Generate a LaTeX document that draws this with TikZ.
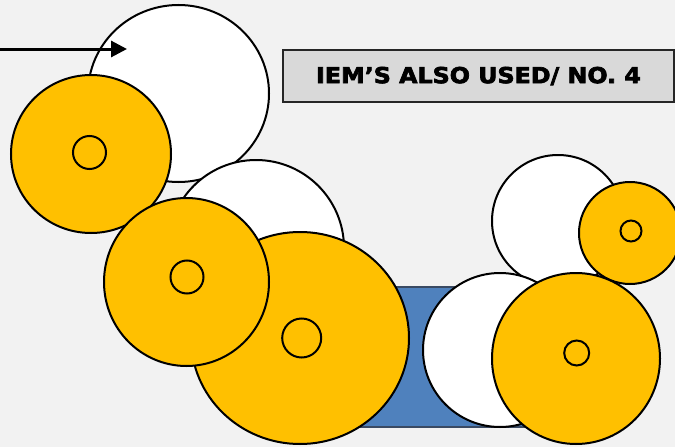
\documentclass[tikz,border=0pt]{standalone}
\usepackage{fontspec}
\usepackage{graphicx}
\newfontfamily\tagfont{DejaVu Sans Bold}[FakeBold=3]
\usetikzlibrary{shapes.geometric,arrows.meta}
\definecolor{pagegray}{HTML}{F2F2F2}
\definecolor{gearorange}{HTML}{FFC000}
\definecolor{beltblue}{HTML}{4F81BD}
\definecolor{beltedge}{HTML}{3A4A63}
\definecolor{taggray}{HTML}{D9D9D9}
\tikzset{
    roll/.style={ellipse,draw,line width=2pt,fill=white,inner sep=0pt},
    gear/.style={roll,fill=gearorange},
    hub/.style={circle,draw,line width=2pt,inner sep=0pt},
}
\begin{document}
\begin{tikzpicture}[x=1pt,y=-1pt]
        \fill[pagegray] (0,0) rectangle (675,447);
        \useasboundingbox (0,0) rectangle (675,447);
        % top left group
        \node[roll,minimum width=181,minimum height=177] (rollA) at (178.5,93.5) {};
        \node[gear,minimum width=160,minimum height=158] (gearA) at (91,154) {};
        \node[hub,minimum size=33] (hubA) at (89.5,152.5) {};
        \coordinate (feed) at (0,49);
        \coordinate (feedtip) at (127,49);
        \draw[line width=3pt,-{Triangle[length=16pt,width=16pt]}] (feed) -- (feedtip);
        % middle group
        \node[roll,minimum size=176] (rollB) at (256,248) {};
        \node[draw=beltedge,line width=1.5pt,fill=beltblue,minimum width=200,minimum height=140,inner sep=0pt] (belt) at (440,357) {};
        \node[gear,minimum width=218,minimum height=212] (gearC) at (300,338) {};
        \node[hub,minimum size=39] (hubC) at (301.7,338) {};
        \node[gear,minimum width=165,minimum height=168] (gearB) at (186.5,282) {};
        \node[hub,minimum size=33] (hubB) at (187,277) {};
        % right group
        \node[roll,minimum size=132] (rollD) at (558,221) {};
        \node[roll,minimum size=154] (rollE) at (500,350) {};
        \node[gear,minimum size=102] (gearD) at (630,233) {};
        \node[hub,minimum size=21] (hubD) at (631,231) {};
        \node[gear,minimum width=168,minimum height=171] (gearE) at (576,358.5) {};
        \node[hub,minimum size=25] (hubE) at (576.7,353) {};
        % label
        \node[draw=black!85,line width=2pt,fill=taggray,minimum width=391,minimum height=52,inner sep=0pt,
            font=\tagfont\fontsize{22}{24}\selectfont] (tag) at (478.5,76)
            {\scalebox{1.08}[1]{IEM’S ALSO USED/ NO. 4}};
\end{tikzpicture}
\end{document}
